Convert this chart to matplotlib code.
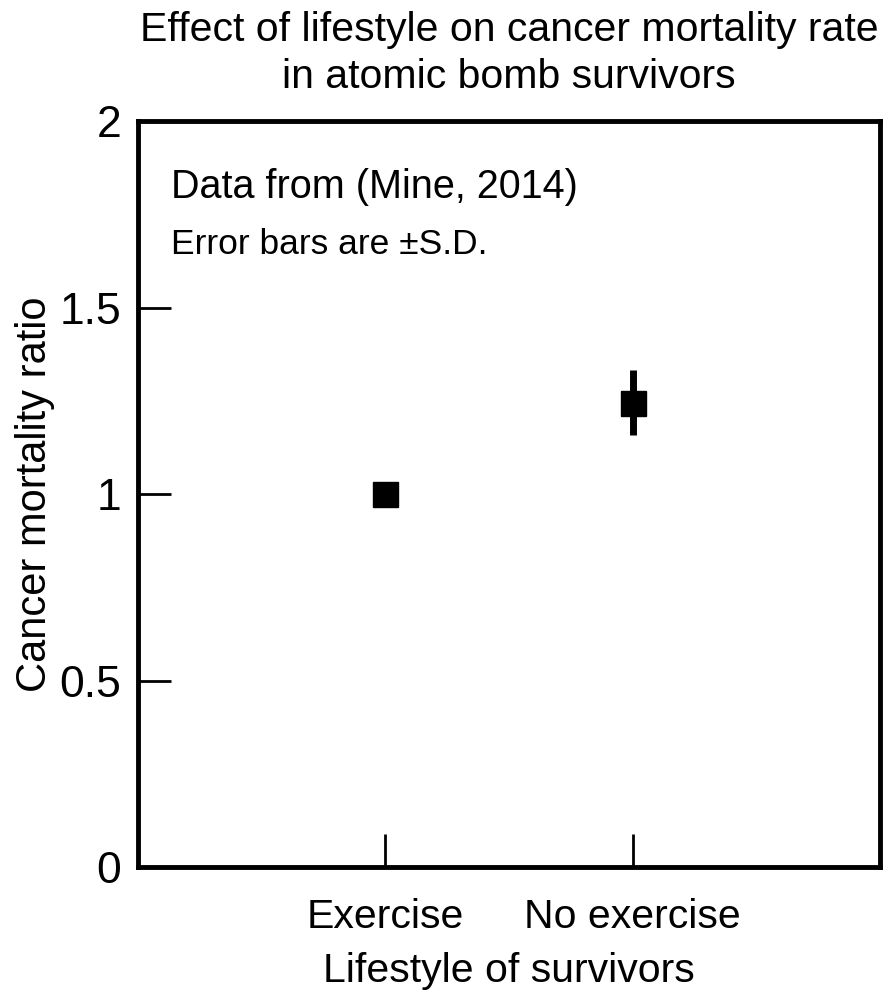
import matplotlib.pyplot as plt

plt.rcParams.update({'font.family': 'Liberation Sans', 'font.size': 28})

groups = ['Exercise', 'No exercise']
ratio = [1.0, 1.245]
sd = [0.0, 0.087]


def make_plot():
    fig = plt.figure(figsize=(8.87, 9.97), dpi=100)
    ax = fig.add_axes([0.1556, 0.1304, 0.8366, 0.7482])

    xs = [1, 2]
    ax.errorbar(xs, ratio, yerr=sd, fmt='s', color='black', markersize=18,
                elinewidth=5, capsize=0)

    ax.set_xlim(0, 3)
    ax.set_ylim(0, 2)
    ax.set_xticks(xs)
    ax.set_xticklabels(groups, fontsize=29.5)
    ax.set_yticks([0, 0.5, 1, 1.5, 2])
    ax.set_yticklabels(['0', '0.5', '1', '1.5', '2'], fontsize=32)
    ax.tick_params(direction='in', length=24, width=2, pad=12)
    ax.tick_params(axis='x', pad=22)
    for s in ax.spines.values():
        s.set_linewidth(3.5)

    ax.set_xlabel('Lifestyle of survivors', fontsize=29.5, labelpad=12)
    ax.set_ylabel('Cancer mortality ratio', fontsize=30, labelpad=3)
    ax.set_title('Effect of lifestyle on cancer mortality rate\nin atomic bomb survivors',
                 fontsize=29.5, pad=24, linespacing=1.29)

    ax.text(0.045, 0.911, 'Data from (Mine, 2014)', transform=ax.transAxes,
            fontsize=28.5, va='center')
    ax.text(0.045, 0.834, 'Error bars are \u00b1S.D.', transform=ax.transAxes,
            fontsize=25.5, va='center')

    fig.savefig('out.png', dpi=100)


if __name__ == "__main__":
    make_plot()
